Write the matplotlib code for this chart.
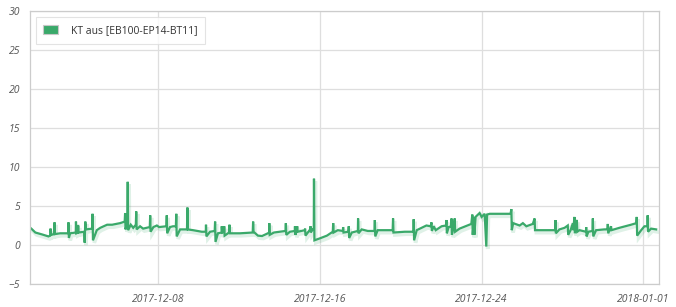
import numpy as np
import pandas as pd
import matplotlib
matplotlib.use("Agg")
import matplotlib.pyplot as plt
import matplotlib.dates as mdates
import matplotlib.patches as mpatches
import matplotlib.patheffects as pe

# time as day of December 2017 (32 = 2018-01-01), value in degC
days = [
    1.73, 1.93, 2.27, 2.58, 2.66, 2.68, 2.72, 2.86, 2.88, 2.90,
    3.16, 3.55, 3.57, 3.59, 3.65, 3.93, 3.94, 3.96, 4.03, 4.05,
    4.07, 4.35, 4.37, 4.40, 4.44, 4.74, 4.76, 4.78, 4.97, 5.14,
    5.48, 5.73, 6.12, 6.35, 6.37, 6.39, 6.48, 6.50, 6.52, 6.65,
    6.77, 6.90, 6.92, 6.94, 7.11, 7.26, 7.59, 7.61, 7.63, 7.77,
    7.94, 8.05, 8.41, 8.43, 8.45, 8.59, 8.74, 8.88, 8.90, 8.92,
    9.09, 9.43, 9.45, 9.47, 9.73, 10.16, 10.36, 10.37, 10.39, 10.57,
    10.80, 10.82, 10.84, 10.96, 11.14, 11.15, 11.17, 11.26, 11.27, 11.29,
    11.51, 11.53, 11.55, 12.05, 12.68, 12.70, 12.72, 12.94, 13.14, 13.43,
    13.49, 13.50, 13.52, 13.73, 14.30, 14.32, 14.34, 14.52, 14.76, 14.77,
    14.79, 14.86, 14.88, 14.90, 15.26, 15.27, 15.29, 15.52, 15.54, 15.55,
    15.65, 15.70, 15.71, 15.73, 16.00, 16.35, 16.64, 16.66, 16.68, 16.89,
    17.14, 17.15, 17.17, 17.41, 17.43, 17.45, 17.58, 17.88, 17.89, 17.91,
    18.07, 18.37, 18.70, 18.72, 18.74, 18.86, 19.60, 19.62, 19.64, 20.20,
    20.63, 20.64, 20.66, 20.79, 21.27, 21.48, 21.52, 21.54, 21.63, 21.73,
    22.02, 22.24, 22.26, 22.28, 22.37, 22.50, 22.51, 22.53, 22.62, 22.67, 22.69,
    22.91, 23.49, 23.54, 23.56, 23.62, 23.64, 23.70, 23.82, 23.90, 24.00,
    24.15, 24.23, 24.27, 24.40, 25.43, 25.47, 25.49, 25.56, 25.88, 26.04,
    26.21, 26.53, 26.62, 26.64, 27.63, 27.65, 27.67, 27.85, 28.10, 28.26,
    28.28, 28.40, 28.51, 28.53, 28.59, 28.61, 28.71, 28.73, 28.84, 29.16,
    29.17, 29.19, 29.28, 29.48, 29.50, 29.52, 29.66, 30.07, 30.22, 30.24,
    30.26, 30.40, 30.42, 30.81, 31.39, 31.65, 31.67, 31.69, 31.89, 32.05,
    32.20, 32.21, 32.23, 32.38, 32.63,
]
kt_aus = [
    2.1, 1.6, 1.35, 1.1, 1.2, 2.1, 1.3, 1.4, 2.9, 1.4,
    1.5, 1.5, 2.9, 0.9, 1.5, 1.6, 3.0, 1.5, 1.6, 2.5,
    1.6, 1.7, 0.3, 3.0, 2.0, 2.1, 4.0, 0.6, 1.9, 2.2,
    2.6, 2.6, 2.8, 3.0, 4.1, 2.0, 3.0, 8.1, 1.9, 2.6,
    2.2, 2.6, 4.3, 2.0, 2.4, 2.1, 2.3, 3.8, 1.7, 2.3,
    2.5, 2.3, 2.4, 3.8, 1.5, 2.3, 2.4, 2.4, 4.0, 1.1,
    2.0, 2.0, 4.8, 2.0, 1.9, 1.7, 1.7, 2.6, 1.1, 1.7,
    1.8, 3.0, 0.4, 1.5, 1.6, 2.4, 1.6, 1.7, 2.4, 1.2,
    1.6, 2.6, 1.5, 1.5, 1.6, 3.0, 1.7, 1.2, 1.15, 1.5,
    1.6, 2.8, 1.3, 1.6, 1.8, 2.8, 1.3, 1.7, 1.8, 2.4,
    1.3, 1.9, 2.4, 1.7, 1.9, 2.1, 1.2, 2.0, 2.4, 1.6,
    2.0, 2.0, 8.5, 0.6, 0.85, 1.2, 1.7, 2.8, 1.6, 1.9,
    1.8, 2.3, 1.6, 1.7, 2.4, 0.9, 1.6, 1.8, 3.4, 1.5,
    2.0, 1.8, 1.8, 3.2, 1.1, 1.9, 1.9, 3.4, 1.6, 1.7,
    1.7, 3.3, 0.6, 1.9, 2.5, 2.4, 2.9, 1.8, 2.4, 1.9,
    2.4, 2.5, 3.2, 1.5, 2.3, 2.4, 3.4, 1.3, 2.3, 3.4, 1.7,
    2.1, 2.7, 3.9, 1.3, 3.6, 1.3, 3.6, 3.9, 4.1, 3.6,
    4.0, -0.2, 3.9, 4.0, 4.0, 4.6, 1.9, 2.8, 2.5, 2.8,
    2.4, 2.7, 3.4, 1.9, 1.9, 3.2, 1.5, 2.0, 2.2, 2.5,
    1.3, 1.9, 2.8, 1.9, 3.6, 1.5, 3.2, 1.7, 1.9, 1.7,
    2.3, 1.1, 1.7, 1.8, 3.4, 1.1, 1.9, 2.0, 2.0, 2.7,
    1.5, 2.4, 1.9, 2.2, 2.6, 2.8, 3.6, 1.2, 1.9, 2.4,
    2.4, 3.8, 1.7, 2.1, 2.0,
]
series_label = "KT aus [EB100-EP14-BT11]"
x_ticks = ["2017-12-08", "2017-12-16", "2017-12-24", "2018-01-01"]
y_ticks = [-5, 0, 5, 10, 15, 20, 25, 30]

base = pd.Timestamp("2017-12-01")
times = base + pd.to_timedelta(np.array(days) - 1, unit="D")

green = "#3aa96a"
grid_c = "#dedede"
text_c = "#555555"

plt.rcParams["font.family"] = ["Open Sans", "DejaVu Sans"]

fig = plt.figure(figsize=(6.76, 3.07), dpi=100)
ax = fig.add_axes([30 / 676, 1 - 284 / 307, 629 / 676, 273 / 307])

line, = ax.plot(times, kt_aus, color=green, lw=1.6, solid_joinstyle="miter")
line.set_path_effects([
    pe.SimpleLineShadow(offset=(1.0, -1.8), shadow_color=green, alpha=0.16, linewidth=2.6),
    pe.Normal(),
])

ax.set_ylim(-5, 30)
ax.set_yticks(y_ticks)
ax.set_xlim(base + pd.Timedelta(hours=16), pd.Timestamp("2018-01-01 18:30"))
ax.set_xticks(pd.to_datetime(x_ticks))
ax.xaxis.set_major_formatter(mdates.DateFormatter("%Y-%m-%d"))

ax.grid(True, color=grid_c, lw=0.9)
ax.set_axisbelow(True)
for s in ax.spines.values():
    s.set_color("#cccccc")
    s.set_linewidth(0.9)
ax.tick_params(length=0, labelsize=7.5, labelcolor=text_c, pad=7)
for lab in ax.get_xticklabels() + ax.get_yticklabels():
    lab.set_fontstyle("italic")

swatch = mpatches.Patch(facecolor=green, edgecolor="#c8c8c8", linewidth=0.8,
                        label=series_label)
leg = ax.legend(handles=[swatch], loc="upper left", bbox_to_anchor=(0.009, 0.978),
                fontsize=7.5, frameon=True, fancybox=False, edgecolor="#dddddd",
                handlelength=1.4, handleheight=1.0, handletextpad=1.2,
                borderpad=0.75, borderaxespad=0.0)
leg.get_frame().set_linewidth(0.8)
for t in leg.get_texts():
    t.set_color("#333333")

fig.savefig("out.png", dpi=100)
